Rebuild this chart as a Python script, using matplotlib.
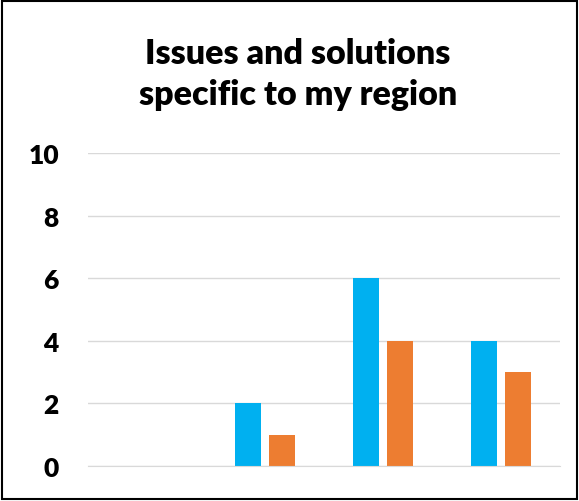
import matplotlib.pyplot as plt
import numpy as np
from matplotlib.patches import Rectangle

categories = ["A", "B", "C", "D"]
series_blue = [0, 2, 6, 4]
series_orange = [0, 1, 4, 3]
y_ticks = [0, 2, 4, 6, 8, 10]
title_lines = ["Issues and solutions", "specific to my region"]

plt.rcParams["font.family"] = ["Lato", "DejaVu Sans"]

fig = plt.figure(figsize=(5.79, 5.02), dpi=100)
ax = fig.add_axes([88 / 579, 1 - 467 / 502, 472 / 579, (467 - 154) / 502])

x = np.arange(len(categories))
width = 0.22
offset = 0.144

ax.bar(x - offset, series_blue, width, color="#00B0F0", zorder=3)
ax.bar(x + offset, series_orange, width, color="#ED7D31", zorder=3)

ax.set_xlim(-0.5, len(categories) - 0.5)
ax.set_ylim(0, 10)
ax.set_yticks(y_ticks)
ax.set_yticklabels([str(v) for v in y_ticks], fontsize=19, fontweight="heavy")
ax.set_xticks([])
ax.tick_params(axis="y", length=0, pad=21)
ax.grid(True, axis="y", color="#D9D9D9", linewidth=1, zorder=0)
for s in ["top", "right", "left"]:
    ax.spines[s].set_visible(False)
ax.spines["bottom"].set_color("#D9D9D9")
ax.spines["bottom"].set_zorder(4)

# title as two lines, placed by baseline
fig.text(0.515, 1 - 64 / 502, title_lines[0], ha="center", va="baseline",
         fontsize=24.5, fontweight="heavy")
fig.text(0.515, 1 - 105 / 502, title_lines[1], ha="center", va="baseline",
         fontsize=24.5, fontweight="heavy")

fig.patches.append(Rectangle((2 / 579, 2 / 502), 1 - 4 / 579, 1 - 4 / 502,
                             transform=fig.transFigure, fill=False,
                             edgecolor="black", linewidth=1.5))

fig.savefig("out.png", dpi=100)
